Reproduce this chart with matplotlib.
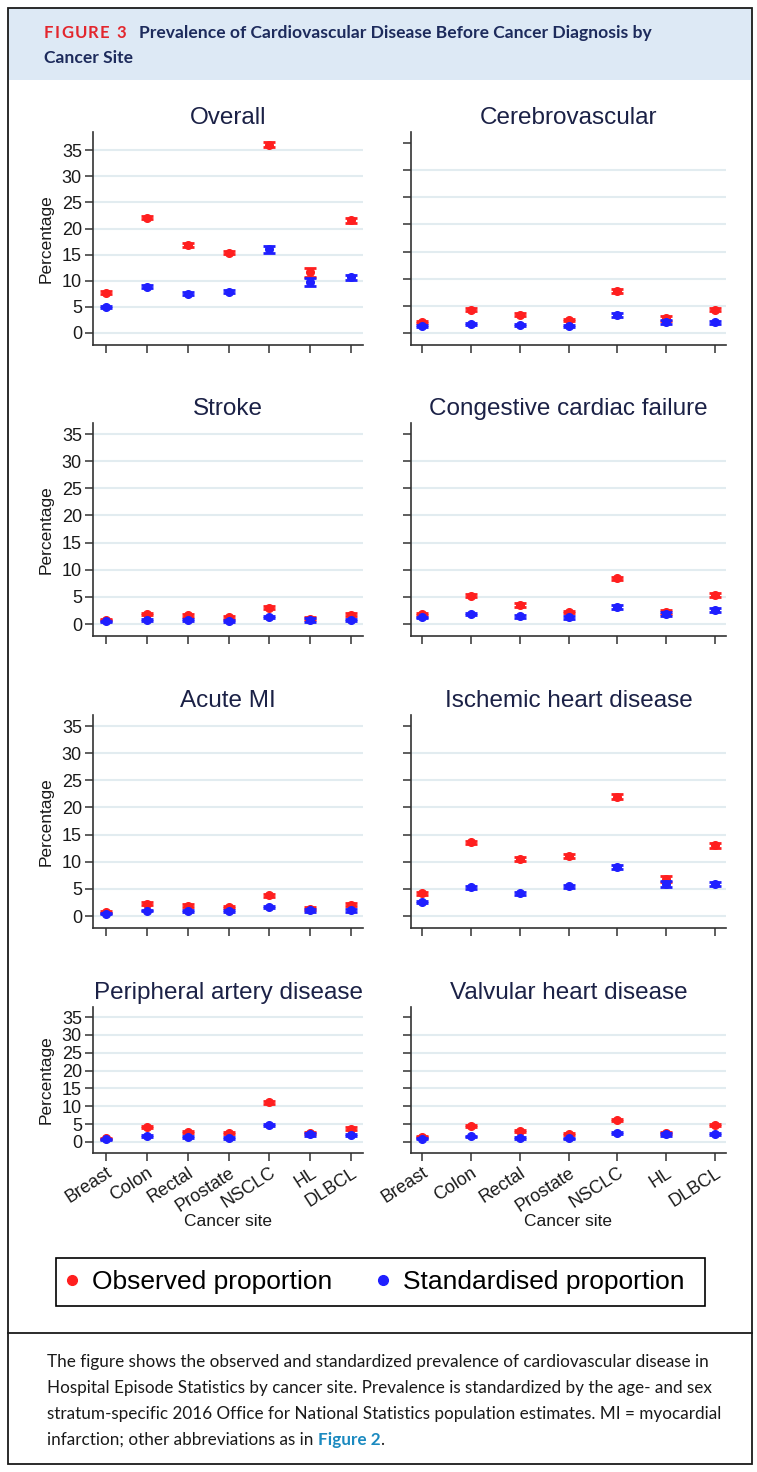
import matplotlib.pyplot as plt
from matplotlib import font_manager
from matplotlib.patches import Rectangle
from matplotlib.lines import Line2D

W, H = 757, 1472
RED = "#ff1f1f"
BLUE = "#1f1fff"

installed = {f.name for f in font_manager.fontManager.ttflist}
SANS = "Liberation Sans" if "Liberation Sans" in installed else "DejaVu Sans"
CAP = "Lato" if "Lato" in installed else SANS
plt.rcParams["font.family"] = [SANS, "DejaVu Sans"]

sites = ["Breast", "Colon", "Rectal", "Prostate", "NSCLC", "HL", "DLBCL"]
x = list(range(1, len(sites) + 1))

# observed / standardised prevalence (%) and half-width of the 95% CI
obs_overall = [7.7, 22.1, 16.9, 15.4, 36.1, 11.6, 21.6]
obs_overall_ci = [0.3, 0.3, 0.35, 0.3, 0.45, 0.8, 0.5]
std_overall = [5.0, 8.9, 7.5, 7.9, 16.0, 9.8, 10.7]
std_overall_ci = [0.25, 0.3, 0.3, 0.3, 0.7, 0.75, 0.5]

obs_cerebro = [2.0, 4.3, 3.4, 2.4, 7.8, 2.7, 4.3]
obs_cerebro_ci = [0.2, 0.25, 0.3, 0.25, 0.35, 0.4, 0.3]
std_cerebro = [1.3, 1.7, 1.5, 1.3, 3.3, 2.1, 2.0]
std_cerebro_ci = [0.15, 0.2, 0.25, 0.2, 0.35, 0.35, 0.3]

obs_stroke = [0.8, 1.8, 1.6, 1.2, 3.0, 1.0, 1.7]
obs_stroke_ci = [0.15, 0.2, 0.25, 0.2, 0.3, 0.3, 0.25]
std_stroke = [0.5, 0.7, 0.7, 0.55, 1.3, 0.75, 0.8]
std_stroke_ci = [0.1, 0.15, 0.2, 0.15, 0.25, 0.3, 0.2]

obs_ccf = [1.8, 5.2, 3.5, 2.2, 8.4, 2.2, 5.3]
obs_ccf_ci = [0.2, 0.25, 0.3, 0.25, 0.35, 0.4, 0.35]
std_ccf = [1.2, 1.9, 1.4, 1.2, 3.2, 1.8, 2.6]
std_ccf_ci = [0.15, 0.2, 0.25, 0.25, 0.35, 0.4, 0.3]

obs_ami = [0.7, 2.3, 1.9, 1.65, 3.8, 1.35, 2.1]
obs_ami_ci = [0.15, 0.2, 0.25, 0.2, 0.3, 0.3, 0.3]
std_ami = [0.45, 1.0, 0.85, 0.9, 1.65, 1.05, 1.05]
std_ami_ci = [0.1, 0.15, 0.2, 0.2, 0.25, 0.3, 0.25]

obs_ihd = [4.15, 13.6, 10.5, 11.05, 22.0, 6.8, 13.0]
obs_ihd_ci = [0.25, 0.3, 0.35, 0.3, 0.4, 0.6, 0.45]
std_ihd = [2.6, 5.3, 4.2, 5.5, 9.05, 5.9, 5.95]
std_ihd_ci = [0.2, 0.25, 0.3, 0.3, 0.4, 0.6, 0.35]

obs_pad = [1.0, 4.2, 2.9, 2.5, 11.1, 2.5, 3.75]
obs_pad_ci = [0.15, 0.25, 0.3, 0.25, 0.4, 0.35, 0.35]
std_pad = [0.75, 1.7, 1.4, 1.1, 4.7, 2.15, 1.9]
std_pad_ci = [0.15, 0.2, 0.25, 0.2, 0.35, 0.35, 0.3]

obs_valve = [1.5, 4.4, 3.0, 2.2, 6.1, 2.5, 4.7]
obs_valve_ci = [0.15, 0.25, 0.3, 0.25, 0.35, 0.35, 0.35]
std_valve = [0.9, 1.6, 1.1, 1.0, 2.6, 2.15, 2.25]
std_valve_ci = [0.15, 0.2, 0.25, 0.2, 0.3, 0.35, 0.3]

panels = [
    ("Overall", obs_overall, obs_overall_ci, std_overall, std_overall_ci),
    ("Cerebrovascular", obs_cerebro, obs_cerebro_ci, std_cerebro, std_cerebro_ci),
    ("Stroke", obs_stroke, obs_stroke_ci, std_stroke, std_stroke_ci),
    ("Congestive cardiac failure", obs_ccf, obs_ccf_ci, std_ccf, std_ccf_ci),
    ("Acute MI", obs_ami, obs_ami_ci, std_ami, std_ami_ci),
    ("Ischemic heart disease", obs_ihd, obs_ihd_ci, std_ihd, std_ihd_ci),
    ("Peripheral artery disease", obs_pad, obs_pad_ci, std_pad, std_pad_ci),
    ("Valvular heart disease", obs_valve, obs_valve_ci, std_valve, std_valve_ci),
]

fig = plt.figure(figsize=(W / 100, H / 100), dpi=100)

# background layer in pixel coordinates (frame, header, caption)
bg = fig.add_axes([0, 0, 1, 1], zorder=-1)
bg.set_xlim(0, W)
bg.set_ylim(H, 0)
bg.axis("off")
bg.add_patch(Rectangle((8, 8), 744, 72, facecolor="#dde9f5", edgecolor="none"))
bg.add_patch(Rectangle((8, 8), 744, 1456, fill=False, edgecolor="#1a1a1a", lw=1.3))
bg.plot([8, 752], [1333, 1333], color="#1a1a1a", lw=1.3)

# "FIGURE 3" with letter spacing
prev = bg.text(44, 38, "F", color="#e3262d", fontweight="bold", fontsize=12,
               family=CAP, va="baseline")
for ch in "IGURE 3":
    prev = bg.annotate(ch, xy=(1, 38), xycoords=(prev, "data"), xytext=(0.9, 0),
                       textcoords="offset points", color="#e3262d",
                       fontweight="bold", fontsize=12, family=CAP, va="baseline")
bg.text(139, 38, "Prevalence of Cardiovascular Disease Before Cancer Diagnosis by",
        color="#1d2b5c", fontweight="bold", fontsize=12.6, family=CAP, va="baseline")
bg.text(44, 63, "Cancer Site", color="#1d2b5c", fontweight="bold", fontsize=12.6,
        family=CAP, va="baseline")

cap_lines = [
    "The figure shows the observed and standardized prevalence of cardiovascular disease in",
    "Hospital Episode Statistics by cancer site. Prevalence is standardized by the age- and sex",
    "stratum-specific 2016 Office for National Statistics population estimates. MI = myocardial",
    "infarction; other abbreviations as in ",
]
for k, line in enumerate(cap_lines):
    t = bg.text(47, 1367 + 26 * k, line, fontsize=12.3, family=CAP, color="#1a1a1a",
                va="baseline")
fig2 = bg.annotate("Figure 2", xy=(1, 1367 + 26 * 3), xycoords=(t, "data"),
                   fontsize=12.3, family=CAP, color="#1b8ac0", fontweight="bold",
                   va="baseline")
bg.annotate(".", xy=(1, 1367 + 26 * 3), xycoords=(fig2, "data"), fontsize=12.3,
            family=CAP, color="#1a1a1a", va="baseline")

cols = [(93, 270, (0.68, 7.29)), (411, 315, (0.775, 7.225))]
rows = [(132, 213), (423, 213), (715, 213), (1007, 146)]

for i, (title, obs, obs_ci, std, std_ci) in enumerate(panels):
    r, c = divmod(i, 2)
    left, width, xl = cols[c]
    top, height = rows[r]
    ax = fig.add_axes([left / W, 1 - (top + height) / H, width / W, height / H])

    ax.errorbar(x, obs, yerr=obs_ci, fmt="o", color=RED, ms=5.5, capsize=4,
                elinewidth=2, capthick=2, zorder=3)
    ax.errorbar(x, std, yerr=std_ci, fmt="o", color=BLUE, ms=5.5, capsize=4,
                elinewidth=2, capthick=2, zorder=4)

    ax.set_xlim(*xl)
    if title == "Overall":
        ax.set_ylim(-2.3, 38.5)
    elif r == 3:
        ax.set_ylim(-3.08, 37.8)
    else:
        ax.set_ylim(-2.21, 37.03)
    ax.set_yticks(range(0, 36, 5))
    ax.set_xticks(x)

    ax.set_axisbelow(True)
    ax.grid(axis="y", color="#e2ecf0", lw=1.5)
    ax.grid(axis="x", visible=False)
    if c == 1:
        ax.get_ygridlines()[-1].set_visible(False)

    for s in ("top", "right"):
        ax.spines[s].set_visible(False)
    for s in ("left", "bottom"):
        ax.spines[s].set_color("#333333")
        ax.spines[s].set_linewidth(1.2)
    ax.tick_params(direction="out", length=6, width=1.1, color="#333333",
                   labelsize=13, pad=2, labelcolor="#1a1a1a")

    ax.set_title(title, fontsize=17.5, color="#1b2146", pad=6)

    if c == 0:
        ax.set_ylabel("Percentage", fontsize=12.5, color="#1a1a1a")
        ax.yaxis.set_label_coords(-0.145, 0.5)
    else:
        ax.tick_params(axis="y", labelleft=False)

    if r == 3:
        ax.set_xticklabels(sites, rotation=33, ha="right", rotation_mode="anchor",
                           fontsize=13)
        ax.set_xlabel("Cancer site", fontsize=12.5, color="#1a1a1a")
        ax.xaxis.set_label_coords(0.5, -0.415)
    else:
        ax.tick_params(axis="x", labelbottom=False)

# legend: entries from the two series, box drawn at the reference position
handles = [Line2D([], [], marker="o", ls="none", color=RED, ms=7),
           Line2D([], [], marker="o", ls="none", color=BLUE, ms=7)]
fig.legend(handles, ["Observed proportion", "Standardised proportion"],
           loc="center left", bbox_to_anchor=(64 / W, 1 - 1282 / H), ncol=2,
           fontsize=19, frameon=False, handlelength=0.6, handletextpad=0.45,
           columnspacing=1.65, borderpad=0, borderaxespad=0)
bg.add_patch(Rectangle((56, 1258), 649, 48, fill=False, edgecolor="black", lw=1.2))

fig.savefig("out.png", dpi=100)
